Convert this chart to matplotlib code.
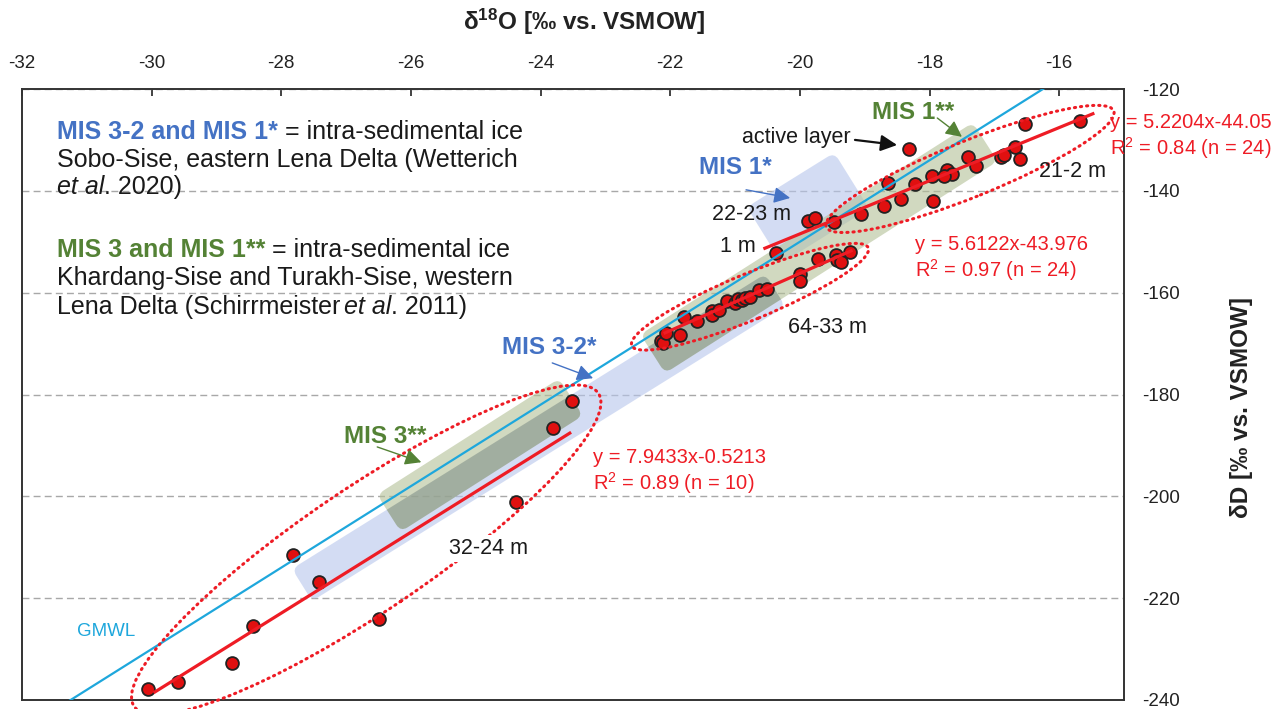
import numpy as np
import matplotlib
matplotlib.use("Agg")
import matplotlib.pyplot as plt
from matplotlib.patches import FancyBboxPatch, Ellipse
from matplotlib.transforms import Affine2D, ScaledTranslation, offset_copy

plt.rcParams['font.family'] = ['Liberation Sans', 'DejaVu Sans']
plt.rcParams['mathtext.fontset'] = 'custom'
plt.rcParams['mathtext.rm'] = 'Liberation Sans'
plt.rcParams['mathtext.it'] = 'Liberation Sans:italic'
plt.rcParams['mathtext.bf'] = 'Liberation Sans:bold'
plt.rcParams['mathtext.default'] = 'regular'
plt.rcParams['axes.unicode_minus'] = False

# ---------------- data ----------------
# MIS 3 intra-sedimental ice, 32-24 m
d18o_mis3 = [-30.06, -29.59, -28.76, -28.44, -27.82, -27.42, -26.49, -24.38, -23.81, -23.52]
dd_mis3 = [-237.8, -236.4, -232.7, -225.5, -211.5, -216.8, -224.1, -201.2, -186.6, -181.2]

# 64-33 m
d18o_deep = [-22.15, -22.11, -22.07, -21.85, -21.78, -21.59, -21.36, -21.36, -21.25, -21.13,
             -21.00, -20.96, -20.90, -20.85, -20.77, -20.63, -20.50, -20.00, -20.00, -19.72,
             -19.45, -19.42, -19.37, -19.22]
dd_deep = [-169.4, -169.9, -168.0, -168.3, -164.8, -165.6, -163.6, -164.4, -163.4, -161.6,
           -162.1, -161.2, -161.4, -161.0, -160.8, -159.5, -159.3, -156.3, -157.8, -153.4,
           -152.7, -153.6, -154.0, -152.0]

# 21-2 m
d18o_upper = [-15.68, -16.53, -16.68, -16.61, -16.90, -16.85, -17.41, -17.29, -17.73, -17.65,
              -17.96, -17.78, -18.23, -18.64, -17.94, -18.44, -18.70, -19.06, -19.47]
dd_upper = [-126.2, -126.9, -131.3, -133.8, -133.4, -133.0, -133.3, -135.1, -135.9, -136.7,
            -137.0, -137.1, -138.7, -138.4, -141.9, -141.7, -142.9, -144.5, -146.1]

# single samples: active layer, 22-23 m, 1 m
d18o_other = [-18.31, -19.87, -19.77, -20.37]
dd_other = [-131.8, -145.9, -145.4, -152.3]

# linear fits (MIS 3, 64-33 m, 21-2 m)
fit_slope = [7.9433, 5.6122, 5.2204]
fit_icept = [-0.5213, -43.976, -44.05]
fit_r2 = [0.89, 0.97, 0.84]
fit_n = [10, 24, 24]
fit_x_from = [-29.95, -22.08, -20.54]
fit_x_to = [-23.55, -19.21, -15.48]

# Global Meteoric Water Line
gmwl_slope, gmwl_icept = 8.0, 10.0

x_ticks = [-32, -30, -28, -26, -24, -22, -20, -18, -16]
y_ticks = [-240, -220, -200, -180, -160, -140, -120]

# ---------------- styles ----------------
RED = '#ee1c25'
BLUE_T = '#4472c4'
GREEN_T = '#548235'
CYAN = '#1ea7dc'

fig = plt.figure(figsize=(12.79, 7.09), dpi=100)
fig.patch.set_facecolor('white')
ax = fig.add_axes([22 / 1279, 9 / 709, 1102 / 1279, 611 / 709])
ax.set_xlim(-32, -15)
ax.set_ylim(-240, -120)

ax.xaxis.tick_top()
ax.yaxis.tick_right()
ax.set_xticks(x_ticks)
ax.set_yticks(y_ticks)
ax.set_xticklabels([str(v) for v in x_ticks])
ax.set_yticklabels([str(v) for v in y_ticks])
ax.tick_params(axis='x', direction='in', length=5, width=1.2, labelsize=13.5, pad=12,
               colors='#222222')
ax.tick_params(axis='y', direction='in', length=0, labelsize=13.5, pad=13,
               colors='#222222')
for s in ax.spines.values():
    s.set_linewidth(1.4)
    s.set_color('#333333')
ax.yaxis.grid(True, linestyle=(0, (5, 3)), color='#a8a8a8', lw=1.0)
ax.set_axisbelow(True)

# axis titles
ax.text(0.51, 1.11, r'δ$^{\mathbf{18}}$O [‰ vs. VSMOW]', transform=ax.transAxes,
        ha='center', va='center', fontsize=17.5, fontweight='bold', color='#222222')
ax.text(1.107, 0.478, 'δD [‰ vs. VSMOW]', transform=ax.transAxes, rotation=90,
        ha='center', va='center', fontsize=17.5, fontweight='bold', color='#222222')

# ---------------- points ----------------
pt_kw = dict(s=85, c='#e01010', edgecolors='#222222', linewidths=1.3, zorder=2)
ax.scatter(d18o_mis3, dd_mis3, **pt_kw)
ax.scatter(d18o_deep, dd_deep, **pt_kw)
ax.scatter(d18o_upper, dd_upper, **pt_kw)
ax.scatter(d18o_other, dd_other, **pt_kw)


# ---------------- shaded MIS bands ----------------
def band(p0, p1, width, radius, **kw):
    """Rounded band between two data points; width/radius in 1/100 inch."""
    d0 = ax.transData.transform(p0)
    d1 = ax.transData.transform(p1)
    v = d1 - d0
    length = np.hypot(*v) / fig.dpi
    ang = np.degrees(np.arctan2(v[1], v[0]))
    cx, cy = (p0[0] + p1[0]) / 2, (p0[1] + p1[1]) / 2
    w = width / 100.0
    tr = Affine2D().rotate_deg(ang) + fig.dpi_scale_trans + ScaledTranslation(cx, cy, ax.transData)
    p = FancyBboxPatch((-length / 2, -w / 2), length, w,
                       boxstyle=f"round,pad=0,rounding_size={radius / 100.0}",
                       transform=tr, **kw)
    ax.add_patch(p)
    return p


blue_kw = dict(facecolor='#b7c6ec', edgecolor='none', alpha=0.6, zorder=1.5)
green_kw = dict(facecolor='#b3c096', edgecolor='none', alpha=0.6, zorder=1.6)
shade_kw = dict(facecolor='#4a5a50', edgecolor='none', alpha=0.25, zorder=1.7)

mis3_green = ((-26.34, -203.3), (-23.53, -180.5))
mis1_green = ((-22.27, -172.0), (-17.14, -130.4))

blue_low = band((-27.68, -217.4), (-20.38, -159.5), 38, 8, **blue_kw)
blue_up = band((-20.55, -148.7), (-19.20, -138.0), 66, 8, **blue_kw)
band(*mis3_green, 44, 8, **green_kw)
band(*mis1_green, 46, 8, **green_kw)

# darker tone where the two families of bands overlap
band(*mis3_green, 44, 8, **shade_kw).set_clip_path(blue_low)
band(*mis1_green, 46, 8, **shade_kw).set_clip_path(blue_low)

# ---------------- GMWL ----------------
gx = np.array([-32.0, -15.0])
ax.plot(gx, gmwl_slope * gx + gmwl_icept, color=CYAN, lw=1.6, zorder=4.5)
ax.text(-30.70, -226.6, 'GMWL', color=CYAN, fontsize=13.5, ha='center', va='center', zorder=6)


# ---------------- dotted ellipses ----------------
def dotted_ellipse(center, major, minor, angle):
    tr = fig.dpi_scale_trans + ScaledTranslation(center[0], center[1], ax.transData)
    e = Ellipse((0, 0), major / 100.0, minor / 100.0, angle=angle, transform=tr,
                fill=False, edgecolor=RED, lw=2.2, linestyle=(0, (0.4, 1.6)),
                capstyle='round', zorder=4.6, clip_on=False)
    ax.add_patch(e)


dotted_ellipse((-26.69, -210.5), 560, 124, 34)
dotted_ellipse((-20.77, -160.8), 256, 46, 22.5)
dotted_ellipse((-17.375, -135.7), 310, 56, 22)

# ---------------- regression lines ----------------
for s, b, x0, x1 in zip(fit_slope, fit_icept, fit_x_from, fit_x_to):
    xx = np.array([x0, x1])
    ax.plot(xx, s * xx + b, color=RED, lw=2.3, zorder=5)

# equations
eq_pos = [(-23.19, -192.3), (-18.22, -150.6), (-15.215, -126.5)]
for (ex, ey), s, b, r2, n in zip(eq_pos, fit_slope, fit_icept, fit_r2, fit_n):
    ax.text(ex, ey, f"y = {s}x-{-b}", color=RED, fontsize=14.5, ha='left', va='center',
            zorder=6, clip_on=False)
    ax.text(ex, ey - 5.0, f"R$^2$ = {r2} (n = {n})", color=RED, fontsize=14.5, ha='left',
            va='center', zorder=6, clip_on=False)

# ---------------- depth labels ----------------
lab_kw = dict(fontsize=15.5, ha='center', va='center', color='#1a1a1a', zorder=6)
ax.text(-24.81, -210.3, '32-24 m', bbox=dict(facecolor='white', edgecolor='none', pad=2), **lab_kw)
ax.text(-19.58, -166.9, '64-33 m', **lab_kw)
ax.text(-15.80, -136.3, '21-2 m', **lab_kw)
ax.text(-20.75, -144.7, '22-23 m', **lab_kw)
ax.text(-20.95, -151.0, '1 m', **lab_kw)
ax.text(-20.06, -129.6, 'active layer', **lab_kw)


# ---------------- MIS labels with arrows ----------------
def arrow(start, end, color, lw=1.0):
    ax.annotate('', xy=end, xytext=start,
                arrowprops=dict(arrowstyle='-|>,head_length=0.7,head_width=0.35',
                                color=color, lw=lw, shrinkA=0, shrinkB=0,
                                mutation_scale=14), zorder=6)


mis_kw = dict(fontsize=17.5, fontweight='bold', ha='center', va='center', zorder=6)
ax.text(-18.25, -124.7, 'MIS 1**', color=GREEN_T, **mis_kw)
arrow((-17.88, -125.7), (-17.50, -129.4), GREEN_T)
ax.text(-21.0, -135.5, 'MIS 1*', color=BLUE_T, **mis_kw)
arrow((-20.83, -139.8), (-20.15, -141.4), BLUE_T)
ax.text(-23.87, -170.7, 'MIS 3-2*', color=BLUE_T, **mis_kw)
arrow((-23.82, -173.8), (-23.19, -176.8), BLUE_T)
ax.text(-26.40, -188.3, 'MIS 3**', color=GREEN_T, **mis_kw)
arrow((-26.52, -190.3), (-25.84, -193.3), GREEN_T)
arrow((-19.15, -130.0), (-18.50, -131.0), '#111111', lw=1.6)

# ---------------- explanatory text block ----------------
renderer = fig.canvas.get_renderer()
LEG = 18


def text_runs(x, y, runs):
    off = 0.0
    for s, style, gap in runs:
        off += gap * LEG
        tr = offset_copy(ax.transData, fig=fig, x=off, y=0, units='points')
        t = ax.text(x, y, s, transform=tr, fontsize=LEG, ha='left', va='center',
                    zorder=6, **style)
        off += t.get_window_extent(renderer=renderer).width * 72.0 / fig.dpi


reg = dict(color='#1a1a1a')
ita = dict(color='#1a1a1a', fontstyle='italic')
lx = -31.46
text_runs(lx, -128.4, [('MIS 3-2 and MIS 1*', dict(color=BLUE_T, fontweight='bold'), 0),
                       ('= intra-sedimental ice', reg, 0.278)])
text_runs(lx, -133.9, [('Sobo-Sise, eastern Lena Delta (Wetterich', reg, 0)])
text_runs(lx, -139.2, [('et al', ita, 0), ('. 2020)', reg, 0)])
text_runs(lx, -151.6, [('MIS 3 and MIS 1**', dict(color=GREEN_T, fontweight='bold'), 0),
                       ('= intra-sedimental ice', reg, 0.278)])
text_runs(lx, -157.1, [('Khardang-Sise and Turakh-Sise, western', reg, 0)])
text_runs(lx, -162.75, [('Lena Delta (Schirrmeister', reg, 0), ('et al', ita, 0.15),
                        ('. 2011)', reg, 0)])

fig.savefig('out.png', dpi=100, facecolor='white')
